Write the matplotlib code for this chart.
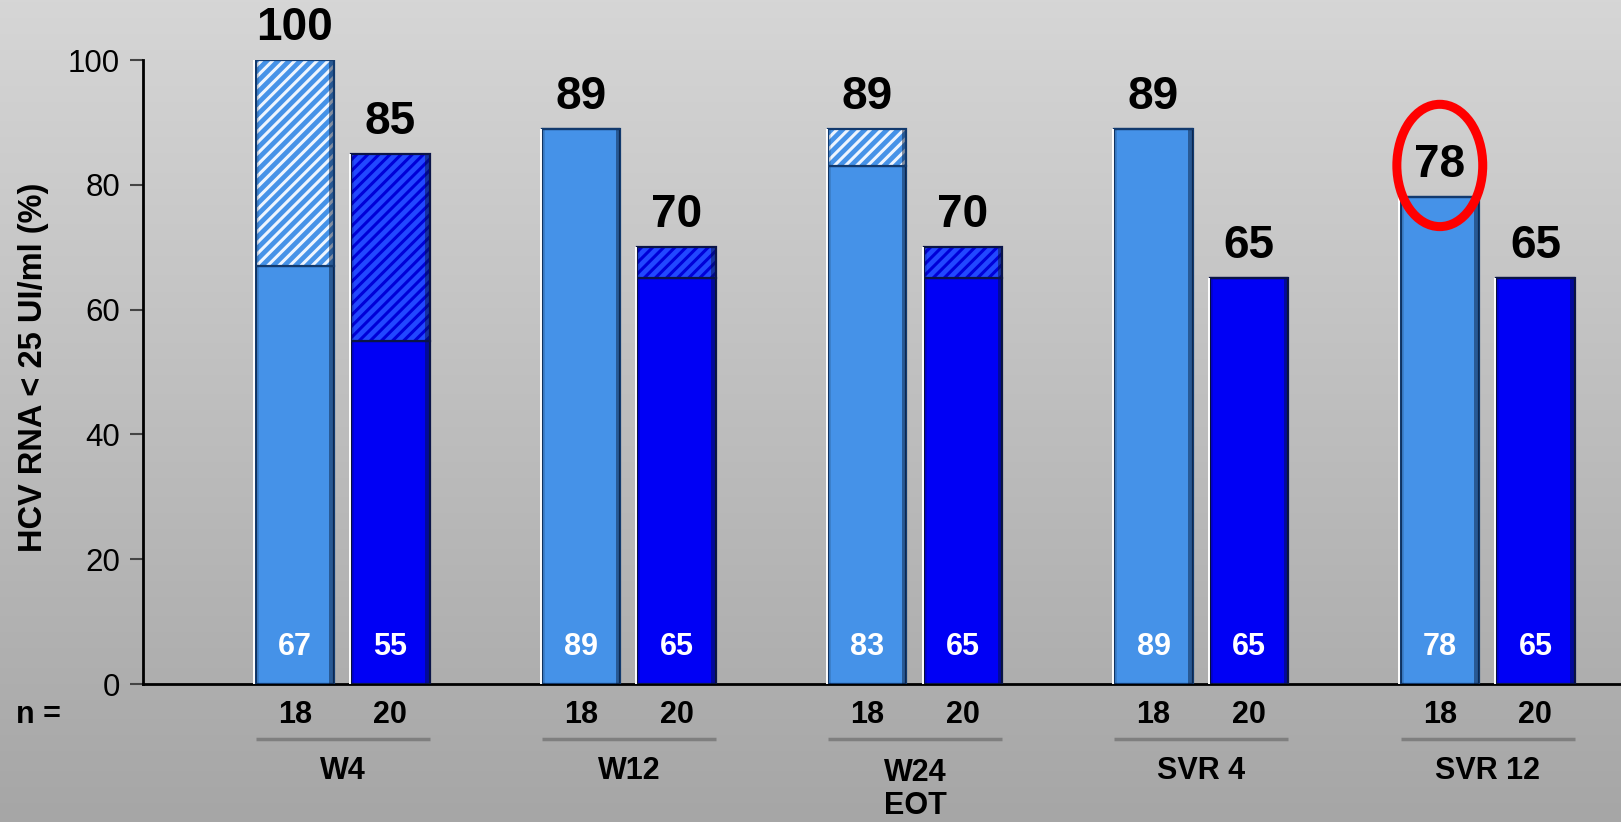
import numpy as np
import matplotlib
matplotlib.use("Agg")
import matplotlib.pyplot as plt
from matplotlib.colors import LinearSegmentedColormap
from matplotlib.patches import Ellipse

# ---- data ----
groups = ['W4', 'W12', 'W24\nEOT', 'SVR 4', 'SVR 12']
light_solid = [67, 89, 83, 89, 78]
light_total = [100, 89, 89, 89, 78]
dark_solid = [55, 65, 65, 65, 65]
dark_total = [85, 70, 70, 65, 65]
n_light = [18, 18, 18, 18, 18]
n_dark = [20, 20, 20, 20, 20]
yticks = [0, 20, 40, 60, 80, 100]
highlight_group = 4  # SVR 12, light bar

plt.rcParams['font.family'] = ['Liberation Sans', 'DejaVu Sans']
plt.rcParams['hatch.linewidth'] = 2.2

LIGHT = '#4592e8'
DARK = '#0000f5'
LIGHT_EDGE = '#123a6e'
DARK_EDGE = '#0a1448'

fig = plt.figure(figsize=(16.21, 8.22), dpi=100)

# background gradient
bg = fig.add_axes([0, 0, 1, 1], zorder=-10)
grad = np.linspace(0, 1, 256).reshape(-1, 1)
cmap = LinearSegmentedColormap.from_list('g', ['#d6d6d6', '#a6a6a6'])
bg.imshow(grad, aspect='auto', cmap=cmap, extent=[0, 1, 0, 1])
bg.set_axis_off()

ax = fig.add_axes([143 / 1621, 1 - 684 / 822, 1 - 143 / 1621, 624 / 822])
ax.patch.set_alpha(0)

x = np.arange(len(groups))
off = 0.167
w = 0.274
xl = x - off
xd = x + off

ls = np.array(light_solid)
lt = np.array(light_total)
ds = np.array(dark_solid)
dt = np.array(dark_total)

shade_w = 0.016


def bevel(xs, bottoms, heights):
    # white highlight on the left edge and dark shading on the right edge
    ax.bar(xs + w / 2 - shade_w / 2, heights, shade_w, bottom=bottoms,
           color='#06142e', alpha=0.45, linewidth=0, zorder=4.5)
    ax.bar(xs - w / 2 + shade_w / 3, heights, shade_w / 1.5, bottom=bottoms,
           color='#000000', alpha=0.12, linewidth=0, zorder=4.5)
    for xi, b, h in zip(xs, bottoms, heights):
        if h > 0:
            ax.plot([xi - w / 2 - 0.004] * 2, [b, b + h], color='white',
                    lw=1.4, zorder=5.5, solid_capstyle='butt')


# solid parts
ax.bar(xl, ls, w, color=LIGHT, edgecolor=LIGHT_EDGE, linewidth=1.6, zorder=3)
ax.bar(xd, ds, w, color=DARK, edgecolor=DARK_EDGE, linewidth=1.6, zorder=3)
# hatched parts
ax.bar(xl, lt - ls, w, bottom=ls, color=LIGHT, edgecolor='none', linewidth=0, zorder=3)
ax.bar(xl, lt - ls, w, bottom=ls, color='none', edgecolor='#eef5ff', hatch='///', linewidth=0, zorder=4)
ax.bar(xl, lt - ls, w, bottom=ls, color='none', edgecolor=LIGHT_EDGE, linewidth=1.6, zorder=5)
ax.bar(xd, dt - ds, w, bottom=ds, color='#2248ff', edgecolor='none', linewidth=0, zorder=3)
ax.bar(xd, dt - ds, w, bottom=ds, color='none', edgecolor='#0000d8', hatch='///', linewidth=0, zorder=4)
ax.bar(xd, dt - ds, w, bottom=ds, color='none', edgecolor=DARK_EDGE, linewidth=1.6, zorder=5)

bevel(xl, np.zeros_like(lt), lt)
bevel(xd, np.zeros_like(dt), dt)

# value labels above bars
for xi, v in zip(xl, lt):
    ax.text(xi, v + 3.2, f'{v}', ha='center', va='baseline', fontsize=33,
            fontweight='bold', color='black', clip_on=False, zorder=6)
for xi, v in zip(xd, dt):
    ax.text(xi, v + 3.2, f'{v}', ha='center', va='baseline', fontsize=33,
            fontweight='bold', color='black', clip_on=False, zorder=6)

# white labels inside bars
for xi, v in zip(xl, ls):
    ax.text(xi, 6.0, f'{v}', ha='center', va='center', fontsize=22,
            fontweight='bold', color='white', zorder=6)
for xi, v in zip(xd, ds):
    ax.text(xi, 6.0, f'{v}', ha='center', va='center', fontsize=22,
            fontweight='bold', color='white', zorder=6)

# n row
ax.text(-1.14, -4.97, 'n =', ha='left', va='center', fontsize=22,
        fontweight='bold', clip_on=False)
for xi, n in zip(xl, n_light):
    ax.text(xi, -4.97, f'{n}', ha='center', va='center', fontsize=22,
            fontweight='bold', clip_on=False)
for xi, n in zip(xd, n_dark):
    ax.text(xi, -4.97, f'{n}', ha='center', va='center', fontsize=22,
            fontweight='bold', clip_on=False)

# underline and group labels
for i, g in enumerate(groups):
    ax.plot([xl[i] - w / 2, xd[i] + w / 2], [-8.8, -8.8], color='#7f7f7f',
            lw=2.5, clip_on=False, solid_capstyle='butt')
    if '\n' in g:
        ax.text(x[i], -11.9, g, ha='center', va='top', fontsize=22,
                fontweight='bold', clip_on=False, linespacing=1.1)
    else:
        ax.text(x[i], -14.0, g, ha='center', va='center', fontsize=22,
                fontweight='bold', clip_on=False)

# highlight ellipse
ell = Ellipse((xl[highlight_group], 83.1), 0.30, 19.6, fill=False,
              edgecolor='#ff0000', linewidth=6.5, zorder=7, clip_on=False)
ax.add_patch(ell)

ax.set_xlim(-0.697, 4.466)
ax.set_ylim(0, 100)
ax.set_yticks(yticks)
ax.set_yticklabels([str(t) for t in yticks], fontsize=22.5)
ax.set_xticks([])
ax.tick_params(axis='y', direction='out', length=9.5, width=1.5, color='#444444', pad=7)
for s in ['top', 'right']:
    ax.spines[s].set_visible(False)
ax.spines['left'].set_linewidth(2)
ax.spines['bottom'].set_linewidth(2)
ax.spines['left'].set_zorder(2)

fig.text(34 / 1621, 1 - 367 / 822, 'HCV RNA < 25 UI/ml (%)', rotation=90,
         ha='center', va='center', fontsize=23.5, fontweight='bold')

fig.savefig('out.png', dpi=100)
